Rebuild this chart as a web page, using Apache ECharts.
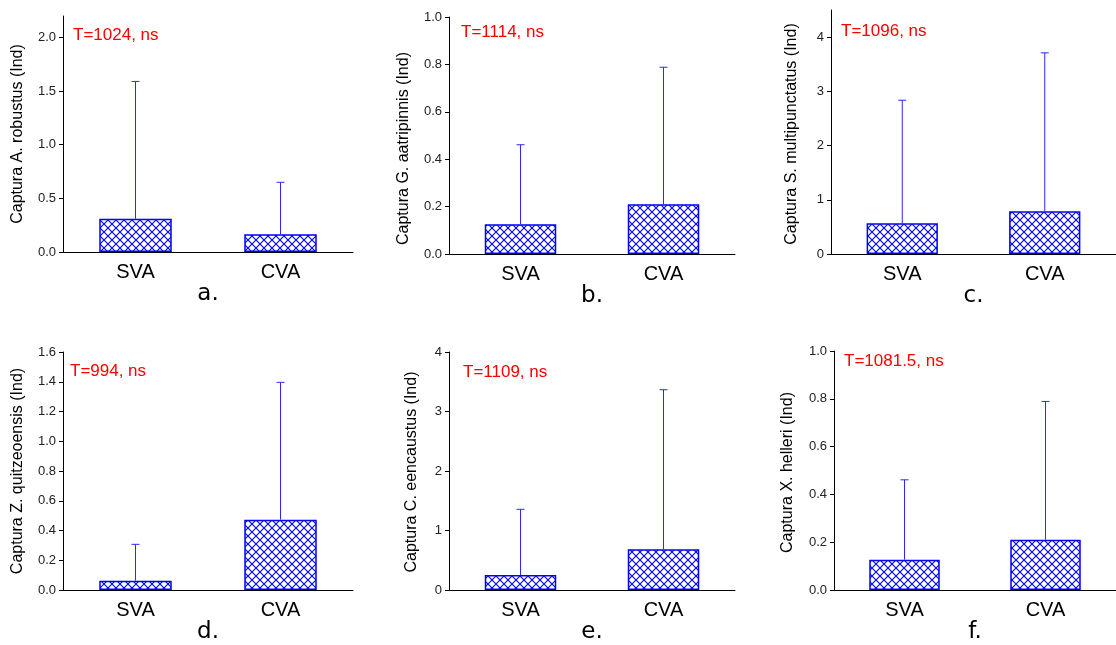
<!DOCTYPE html>
<html>
<head>
<meta charset="utf-8">
<title>Captura SVA / CVA</title>
<script src="https://cdn.jsdelivr.net/npm/echarts@6.0.0/dist/echarts.min.js"></script>
<style>
  html, body { margin: 0; padding: 0; background: #fff; }
  #chart { width: 1116px; height: 645px; }
</style>
</head>
<body>
<div id="chart"></div>
<script>
// datos de cada panel (a-f)
const categories = ['SVA', 'CVA'];
const panelLetters = ['a.', 'b.', 'c.', 'd.', 'e.', 'f.'];
const yTitles = [
    'Captura A. robustus (Ind)',
    'Captura G. aatripinnis (Ind)',
    'Captura S. multipunctatus (Ind)',
    'Captura Z. quitzeoensis (Ind)',
    'Captura C. eencaustus (Ind)',
    'Captura X. helleri (Ind)'
];
const tStats = ['T=1024, ns', 'T=1114, ns', 'T=1096, ns', 'T=994, ns', 'T=1109, ns', 'T=1081.5, ns'];

// medias (SVA, CVA)
const meansA = [0.31, 0.165];
const meansB = [0.126, 0.21];
const meansC = [0.566, 0.79];
const meansD = [0.063, 0.473];
const meansE = [0.252, 0.684];
const meansF = [0.127, 0.21];

// desviación (solo barra superior)
const sdA = [1.28, 0.485];
const sdB = [0.335, 0.578];
const sdC = [2.27, 2.92];
const sdD = [0.244, 0.923];
const sdE = [1.104, 2.682];
const sdF = [0.334, 0.579];

// escalas del eje y
const yMax = [2.2, 1.0, 4.5, 1.6, 4, 1.0];
const yTicksA = [0, 0.5, 1.0, 1.5, 2.0];
const yTicksB = [0, 0.2, 0.4, 0.6, 0.8, 1.0];
const yTicksC = [0, 1, 2, 3, 4];
const yTicksD = [0, 0.2, 0.4, 0.6, 0.8, 1.0, 1.2, 1.4, 1.6];
const yTicksE = [0, 1, 2, 3, 4];
const yTicksF = [0, 0.2, 0.4, 0.6, 0.8, 1.0];
const yDecimals = [1, 1, 0, 1, 0, 1];

const allMeans = [meansA, meansB, meansC, meansD, meansE, meansF];
const allSd = [sdA, sdB, sdC, sdD, sdE, sdF];
const allTicks = [yTicksA, yTicksB, yTicksC, yTicksD, yTicksE, yTicksF];

// posicion de cada grid y textos (px)
const layout = [
    { left: 63,  top: 16,  width: 290, height: 236, nameGap: 37, namePad: 0,  tx: 73,  ty: 27 },
    { left: 449, top: 17,  width: 286, height: 237, nameGap: 37, namePad: 26, tx: 461, ty: 24 },
    { left: 831, top: 10,  width: 290, height: 244, nameGap: 31, namePad: 4,  tx: 841, ty: 23 },
    { left: 63,  top: 352, width: 290, height: 240, nameGap: 37, namePad: 0,  tx: 70,  ty: 363 },
    { left: 449, top: 352, width: 286, height: 238, nameGap: 29, namePad: 2,  tx: 463, ty: 364 },
    { left: 834, top: 351, width: 288, height: 240, nameGap: 38, namePad: 4,  tx: 844, ty: 353 }
];

const FONT = '"Liberation Sans", Arial, sans-serif';
const BLUE = '#0000ff';

// trama cruzada de las barras
function makeHatch() {
    const n = 8;
    const c = document.createElement('canvas');
    c.width = n;
    c.height = n;
    const ctx = c.getContext('2d');
    ctx.fillStyle = '#ffffff';
    ctx.fillRect(0, 0, n, n);
    ctx.strokeStyle = '#0000ff';
    ctx.lineWidth = 1.1;
    ctx.beginPath();
    ctx.moveTo(-1, -1); ctx.lineTo(n + 1, n + 1);
    ctx.moveTo(n + 1, -1); ctx.lineTo(-1, n + 1);
    ctx.stroke();
    return c;
}

function renderError(params, api) {
    const x = api.value(0);
    const p0 = api.coord([x, api.value(1)]);
    const p1 = api.coord([x, api.value(2)]);
    const style = { stroke: '#2a2aff', lineWidth: 1 };
    return {
        type: 'group',
        children: [
            { type: 'line', shape: { x1: p0[0], y1: p0[1], x2: p1[0], y2: p1[1] }, style: style },
            { type: 'line', shape: { x1: p1[0] - 4, y1: p1[1], x2: p1[0] + 4, y2: p1[1] }, style: style }
        ]
    };
}

function initChart() {
    const chart = echarts.init(document.getElementById('chart'));
    const hatch = makeHatch();

    const grid = [], xAxis = [], yAxis = [], series = [], title = [];

    for (let i = 0; i < 6; i++) {
        const L = layout[i];
        grid.push({ left: L.left, top: L.top, width: L.width, height: L.height, containLabel: false });

        title.push({
            text: tStats[i],
            left: L.tx,
            top: L.ty,
            padding: 0,
            textStyle: { color: '#ff0000', fontSize: 17, fontWeight: 'normal', fontFamily: FONT }
        });

        xAxis.push({
            type: 'category',
            gridIndex: i,
            data: categories,
            axisLine: { lineStyle: { color: '#000', width: 1 } },
            axisTick: { show: false },
            axisLabel: { color: '#000', fontSize: 20, margin: 10, fontFamily: FONT },
            name: panelLetters[i],
            nameLocation: 'middle',
            nameGap: 31,
            nameTextStyle: { color: '#000', fontSize: 23, fontFamily: '"DejaVu Sans", sans-serif' }
        });

        const dec = yDecimals[i];
        yAxis.push({
            type: 'value',
            gridIndex: i,
            min: 0,
            max: yMax[i],
            splitLine: { show: false },
            axisLine: { show: true, lineStyle: { color: '#000', width: 1 } },
            axisTick: { show: true, length: 4, customValues: allTicks[i], lineStyle: { color: '#000' } },
            axisLabel: {
                customValues: allTicks[i],
                formatter: v => v.toFixed(dec),
                color: '#222',
                fontSize: 13,
                margin: 7,
                fontFamily: FONT
            },
            name: yTitles[i],
            nameLocation: 'middle',
            nameGap: L.nameGap,
            nameTextStyle: { color: '#000', fontSize: 16, fontFamily: FONT, padding: [0, L.namePad, 0, 0] }
        });

        series.push({
            type: 'bar',
            xAxisIndex: i,
            yAxisIndex: i,
            data: allMeans[i],
            barWidth: '50%',
            itemStyle: {
                color: { image: hatch, repeat: 'repeat' },
                borderColor: BLUE,
                borderWidth: 1.5
            },
            silent: true
        });

        series.push({
            type: 'custom',
            xAxisIndex: i,
            yAxisIndex: i,
            renderItem: renderError,
            data: categories.map((c, k) => [k, allMeans[i][k], allMeans[i][k] + allSd[i][k]]),
            encode: { x: 0, y: [1, 2] },
            z: 3,
            silent: true
        });
    }

    chart.setOption({
        animation: false,
        backgroundColor: '#fff',
        title: title,
        grid: grid,
        xAxis: xAxis,
        yAxis: yAxis,
        series: series
    });
}

initChart();
</script>
</body>
</html>
